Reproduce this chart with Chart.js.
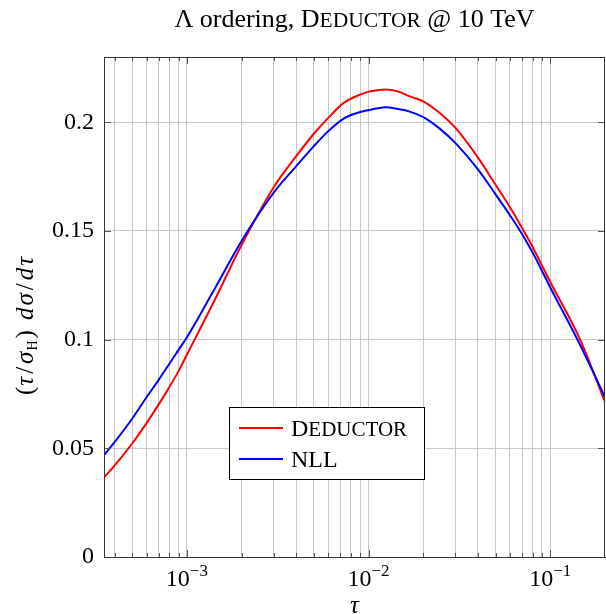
<!DOCTYPE html>
<html>
<head>
<meta charset="utf-8">
<script src="https://cdn.jsdelivr.net/npm/chart.js@4.4.1/dist/chart.umd.min.js"></script>
<style>
  html, body { margin: 0; padding: 0; background: #fff; }
</style>
</head>
<body>
<canvas id="tauChart" width="606" height="614"></canvas>
<script>
// tau values and the two curves
const tau = [3.5e-4, 4e-4, 5e-4, 6e-4, 7e-4, 8e-4, 9e-4, 1e-3, 1.41e-3, 2e-3, 3e-3,
             4e-3, 5e-3, 6e-3, 7.3e-3, 9e-3, 1.03e-2, 1.24e-2, 1.45e-2, 1.67e-2, 2e-2,
             2.5e-2, 3e-2, 4e-2, 5e-2, 6e-2, 7e-2, 8e-2, 1e-1, 1.46e-1, 2e-1];
const deductor = [0.0366, 0.0420, 0.0522, 0.0616, 0.0702, 0.0781, 0.0855, 0.0930, 0.1175, 0.1435, 0.1700,
                  0.1844, 0.1947, 0.2020, 0.2089, 0.2127, 0.2142, 0.2150, 0.2142, 0.2120, 0.2096,
                  0.2038, 0.1975, 0.1837, 0.1712, 0.1609, 0.1513, 0.1425, 0.1265, 0.1000, 0.0713];
const nll = [0.0468, 0.0528, 0.0636, 0.0735, 0.0815, 0.0888, 0.0953, 0.1010, 0.1228, 0.1454, 0.1675,
             0.1798, 0.1890, 0.1959, 0.2017, 0.2047, 0.2058, 0.2069, 0.2061, 0.2050, 0.2023,
             0.1966, 0.1905, 0.1783, 0.1668, 0.1572, 0.1485, 0.1400, 0.1240, 0.0975, 0.0735];

const yTicks = [0, 0.05, 0.1, 0.15, 0.2];
const xDecades = [1e-3, 1e-2, 1e-1];
const xDecadeExponents = ["\u22123", "\u22122", "\u22121"];

const serif = "'Liberation Serif', 'DejaVu Serif', serif";
const fnt = (size, italic) => (italic ? "italic " : "") + size + "px " + serif;

// draw a list of text pieces centred on x (sp = extra gap after a piece)
function drawRuns(ctx, runs, x, y) {
    let total = 0;
    runs.forEach((r) => {
        ctx.font = r.font;
        r.w = ctx.measureText(r.text).width + (r.sp || 0);
        total += r.w;
    });
    let cx = x - total / 2;
    runs.forEach((r) => {
        ctx.font = r.font;
        ctx.fillText(r.text, cx, y + (r.dy || 0));
        cx += r.w;
    });
}

function drawRunsLeft(ctx, runs, x, y) {
    let cx = x;
    runs.forEach((r) => {
        ctx.font = r.font;
        ctx.fillText(r.text, cx, y + (r.dy || 0));
        cx += ctx.measureText(r.text).width;
    });
}

const decor = {
    id: "decor",
    afterDraw(chart) {
        const ctx = chart.ctx;
        const ca = chart.chartArea;
        const xs = chart.scales.x;
        const ys = chart.scales.y;
        ctx.save();

        // inner tick marks
        ctx.strokeStyle = "#555";
        ctx.lineWidth = 1;
        ctx.beginPath();
        xs.ticks.forEach((t) => {
            const px = Math.round(xs.getPixelForValue(t.value)) + 0.5;
            const len = t.major ? 7 : 4;
            ctx.moveTo(px, ca.bottom); ctx.lineTo(px, ca.bottom - len);
            ctx.moveTo(px, ca.top); ctx.lineTo(px, ca.top + len);
        });
        ys.ticks.forEach((t) => {
            const py = Math.round(ys.getPixelForValue(t.value)) + 0.5;
            ctx.moveTo(ca.left, py); ctx.lineTo(ca.left + 7, py);
            ctx.moveTo(ca.right, py); ctx.lineTo(ca.right - 7, py);
        });
        ctx.stroke();

        // frame
        ctx.strokeStyle = "#333";
        ctx.strokeRect(Math.round(ca.left) + 0.5, Math.round(ca.top) + 0.5,
                       Math.round(ca.right - ca.left) - 1, Math.round(ca.bottom - ca.top));

        ctx.fillStyle = "#000";
        ctx.textBaseline = "alphabetic";
        ctx.textAlign = "left";

        // x tick labels 10^k
        xDecades.forEach((v, i) => {
            const px = xs.getPixelForValue(v);
            drawRuns(ctx, [
                { text: "10", font: fnt(24) },
                { text: xDecadeExponents[i], font: fnt(17), dy: -10 }
            ], px, ca.bottom + 29);
        });

        // x axis title
        drawRuns(ctx, [{ text: "\u03c4", font: fnt(25, true) }], (ca.left + ca.right) / 2, ca.bottom + 56);

        // y axis title
        ctx.save();
        ctx.translate(33, (ca.top + ca.bottom) / 2 + 19);
        ctx.rotate(-Math.PI / 2);
        drawRuns(ctx, [
            { text: "(", font: fnt(25), sp: 1 },
            { text: "\u03c4", font: fnt(25, true), sp: 3 },
            { text: "/", font: fnt(25), sp: 3 },
            { text: "\u03c3", font: fnt(25, true), sp: 1 },
            { text: "H", font: fnt(14), dy: 4, sp: 2 },
            { text: ")", font: fnt(25), sp: 10 },
            { text: "d", font: fnt(25, true), sp: 2 },
            { text: "\u03c3", font: fnt(25, true), sp: 3 },
            { text: "/", font: fnt(25), sp: 3 },
            { text: "d", font: fnt(25, true), sp: 2 },
            { text: "\u03c4", font: fnt(25, true) }
        ], 0, 0);
        ctx.restore();

        // title
        drawRuns(ctx, [
            { text: "\u039b ordering, ", font: fnt(26) },
            { text: "D", font: fnt(26) },
            { text: "EDUCTOR", font: fnt(21.5) },
            { text: " @ 10 TeV", font: fnt(26) }
        ], (ca.left + ca.right) / 2, 27);

        // legend box
        const bx = ca.left + 125, by = ca.top + 350, bw = 195, bh = 72;
        ctx.fillStyle = "#fff";
        ctx.fillRect(bx, by, bw, bh);
        ctx.strokeStyle = "#000";
        ctx.strokeRect(bx + 0.5, by + 0.5, bw, bh);
        const rows = [
            { color: "#ff0000", runs: [{ text: "D", font: fnt(24) }, { text: "EDUCTOR", font: fnt(21) }] },
            { color: "#0000ff", runs: [{ text: "NLL", font: fnt(24) }] }
        ];
        rows.forEach((r, i) => {
            const ry = by + 21 + i * 31;
            ctx.strokeStyle = r.color;
            ctx.lineWidth = 2;
            ctx.beginPath();
            ctx.moveTo(bx + 10, ry); ctx.lineTo(bx + 54, ry);
            ctx.stroke();
            ctx.fillStyle = "#000";
            drawRunsLeft(ctx, r.runs, bx + 62, ry + 8);
        });

        ctx.restore();
    }
};

new Chart(document.getElementById("tauChart"), {
    type: "line",
    data: {
        datasets: [
            {
                label: "Deductor",
                data: tau.map((t, i) => ({ x: t, y: deductor[i] })),
                borderColor: "#ff0000",
                borderWidth: 2,
                pointRadius: 0,
                cubicInterpolationMode: "monotone",
                fill: false,
                order: 1,
            },
            {
                label: "NLL",
                data: tau.map((t, i) => ({ x: t, y: nll[i] })),
                borderColor: "#0000ff",
                borderWidth: 2,
                pointRadius: 0,
                cubicInterpolationMode: "monotone",
                fill: false,
                order: 0,
            }
        ],
    },
    options: {
        responsive: false,
        animation: false,
        layout: { padding: { top: 57, right: 1, left: 0, bottom: 0 } },
        plugins: {
            legend: { display: false },
            title: { display: false },
            tooltip: { enabled: false },
        },
        scales: {
            x: {
                type: "logarithmic",
                min: 3.5e-4,
                max: 0.2,
                afterBuildTicks(scale) {
                    const ticks = [];
                    for (let e = -4; e <= -1; e++) {
                        for (let m = 1; m <= 9; m++) {
                            const v = m * Math.pow(10, e);
                            if (v > scale.min * 1.001 && v < scale.max * 0.999) ticks.push({ value: v, major: m === 1 });
                        }
                    }
                    scale.ticks = ticks;
                },
                afterFit(scale) { scale.height = 57; },
                ticks: { display: false },
                grid: { color: "#c8c8c8", lineWidth: 1, drawTicks: false },
                border: { color: "#333", width: 1 },
            },
            y: {
                min: 0,
                max: 0.23,
                afterBuildTicks(scale) {
                    scale.ticks = yTicks.map((v) => ({ value: v }));
                },
                afterFit(scale) { scale.width = 104; },
                ticks: {
                    callback: (v) => String(+Number(v).toFixed(2)),
                    font: { family: serif, size: 24 },
                    color: "#000",
                    padding: 10,
                },
                grid: { color: "#c8c8c8", lineWidth: 1, drawTicks: false },
                border: { color: "#333", width: 1 },
            },
        },
    },
    plugins: [decor],
});
</script>
</body>
</html>
